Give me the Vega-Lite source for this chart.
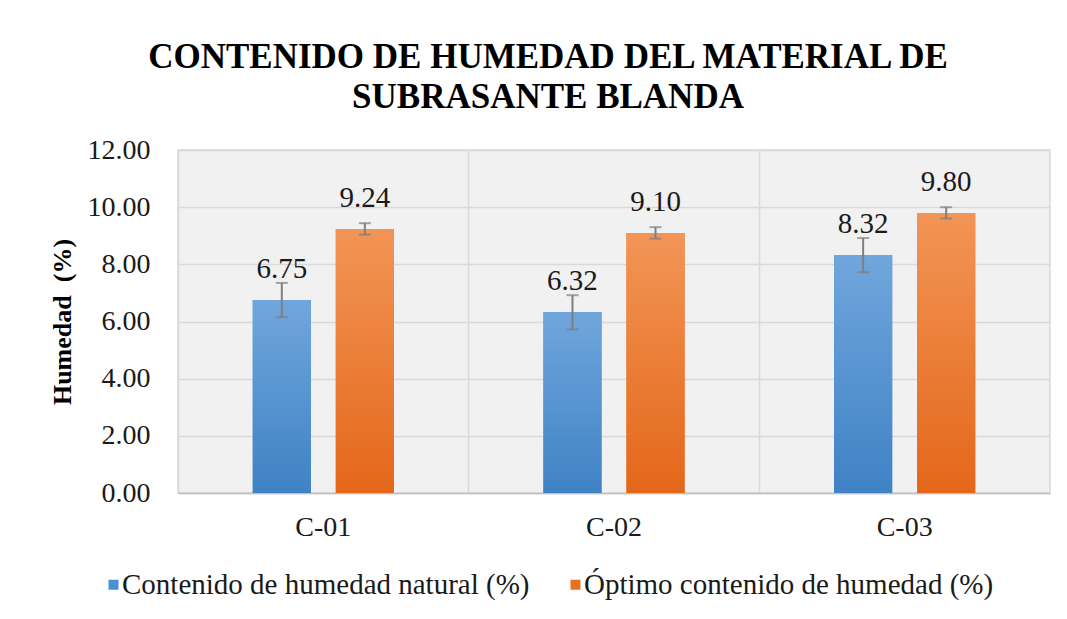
{
  "$schema": "https://vega.github.io/schema/vega-lite/v6.json",
  "width": 872,
  "height": 343,
  "autosize": {"type": "none"},
  "padding": {"left": 178, "top": 150, "right": 17, "bottom": 126},
  "background": "white",
  "config": {
    "font": "Liberation Serif",
    "view": {"stroke": "#d9d9d9", "strokeWidth": 1.5, "fill": "#f1f1f1"}
  },
  "title": {
    "text": ["CONTENIDO DE HUMEDAD DEL MATERIAL DE", "SUBRASANTE BLANDA"],
    "font": "Liberation Serif",
    "fontSize": 35,
    "fontWeight": "bold",
    "color": "#000000",
    "anchor": "middle",
    "dx": -66,
    "lineHeight": 40,
    "offset": 21
  },
  "data": {
    "values": [
      {"c": "C-01", "s": "Contenido de humedad natural (%)", "v": 6.75, "e": 0.6},
      {"c": "C-01", "s": "Óptimo contenido de humedad (%)", "v": 9.24, "e": 0.2},
      {"c": "C-02", "s": "Contenido de humedad natural (%)", "v": 6.32, "e": 0.6},
      {"c": "C-02", "s": "Óptimo contenido de humedad (%)", "v": 9.10, "e": 0.2},
      {"c": "C-03", "s": "Contenido de humedad natural (%)", "v": 8.32, "e": 0.6},
      {"c": "C-03", "s": "Óptimo contenido de humedad (%)", "v": 9.80, "e": 0.2}
    ]
  },
  "transform": [
    {"calculate": "datum.v - datum.e", "as": "lo"},
    {"calculate": "datum.v + datum.e", "as": "hi"}
  ],
  "encoding": {
    "x": {
      "field": "c", "type": "nominal",
      "scale": {"paddingInner": 0, "paddingOuter": 0},
      "axis": {
        "title": null, "labelAngle": 0, "ticks": false,
        "grid": true, "bandPosition": 0, "gridColor": "#d9d9d9", "gridWidth": 1.5,
        "domainColor": "#bfbfbf", "domainWidth": 1.5,
        "labelFont": "Liberation Serif", "labelFontSize": 28, "labelColor": "#1a1a1a",
        "labelPadding": 20
      }
    },
    "xOffset": {
      "field": "s", "type": "nominal",
      "scale": {"paddingInner": 0.3, "paddingOuter": 0.9}
    }
  },
  "layer": [
    {
      "mark": {"type": "bar"},
      "encoding": {
        "y": {
          "field": "v", "type": "quantitative",
          "scale": {"domain": [0, 12], "nice": false},
          "axis": {
            "values": [0, 2, 4, 6, 8, 10, 12], "format": ".2f",
            "title": "Humedad\u00a0 (%)", "titleFont": "Liberation Serif", "titleFontSize": 26,
            "titleFontWeight": "bold", "titleColor": "#000000", "titlePadding": 12,
            "labelFont": "Liberation Serif", "labelFontSize": 28, "labelColor": "#1a1a1a",
            "labelPadding": 28, "ticks": false, "domain": false,
            "gridColor": "#d9d9d9", "gridWidth": 1.5
          }
        },
        "color": {
          "field": "s", "type": "nominal",
          "scale": {"range": ["#4a90d6", "#e8711f"]},
          "legend": {
            "title": null, "orient": "none", "direction": "horizontal",
            "legendX": -79, "legendY": 420,
            "symbolType": "square", "symbolSize": 100, "symbolStrokeWidth": 0,
            "labelFont": "Liberation Serif", "labelFontSize": 29, "labelColor": "#1a1a1a",
            "labelLimit": 0, "labelOffset": -6, "columnPadding": 31
          }
        }
      }
    },
    {
      "mark": {"type": "bar"},
      "encoding": {
        "y": {"field": "v", "type": "quantitative"},
        "fill": {
          "condition": {
            "test": "datum.s === 'Contenido de humedad natural (%)'",
            "value": {"gradient": "linear", "x1": 0, "y1": 0, "x2": 0, "y2": 1,
              "stops": [{"offset": 0, "color": "#70a6dc"}, {"offset": 1, "color": "#3f82c5"}]}
          },
          "value": {"gradient": "linear", "x1": 0, "y1": 0, "x2": 0, "y2": 1,
            "stops": [{"offset": 0, "color": "#f29556"}, {"offset": 1, "color": "#e4671a"}]}
        }
      }
    },
    {
      "mark": {"type": "rule", "color": "#7f7f7f", "strokeWidth": 2},
      "encoding": {
        "y": {"field": "lo", "type": "quantitative"},
        "y2": {"field": "hi"}
      }
    },
    {
      "mark": {"type": "tick", "color": "#7f7f7f", "thickness": 2, "size": 12},
      "encoding": {"y": {"field": "lo", "type": "quantitative"}}
    },
    {
      "mark": {"type": "tick", "color": "#7f7f7f", "thickness": 2, "size": 12},
      "encoding": {"y": {"field": "hi", "type": "quantitative"}}
    },
    {
      "mark": {"type": "text", "font": "Liberation Serif", "fontSize": 29, "color": "#1a1a1a", "baseline": "alphabetic", "dy": -22},
      "encoding": {
        "y": {"field": "v", "type": "quantitative"},
        "text": {"field": "v", "type": "quantitative", "format": ".2f"}
      }
    }
  ]
}
